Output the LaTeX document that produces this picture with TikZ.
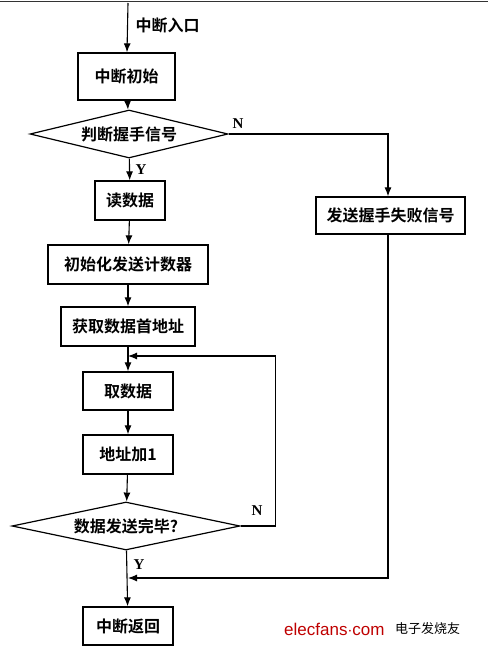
\documentclass[tikz,border=0pt]{standalone}
\usepackage{fontspec}
\usepackage{tikz}
\usetikzlibrary{shapes.geometric, arrows.meta}
\newfontfamily\cjk{Noto Sans CJK SC Bold}
\newfontfamily\cjklight{Noto Sans CJK SC}
\newfontfamily\ynfont{Liberation Serif}
\setsansfont{Liberation Sans}

\tikzset{
  box/.style={rectangle, draw, line width=1.3pt, inner sep=0pt,
    font=\cjk\fontsize{16}{18}\selectfont},
  decide/.style={diamond, draw, line width=1.2pt, inner sep=0pt, aspect=4,
    font=\cjk\fontsize{16}{18}\selectfont},
  flow/.style={-{Latex[length=9pt, width=7pt]}, line width=1.1pt},
  yn/.style={font=\ynfont\bfseries\fontsize{15}{17}\selectfont}
}

\begin{document}
\begin{tikzpicture}[x=1pt, y=-1pt]
            \useasboundingbox (0,0) rectangle (488,650);
            \draw[line width=1.6pt, black!80] (0,1.5) -- (488,1.5);

            % Nodes
            \coordinate (start) at (128,3);
            \node[anchor=west, font=\cjk\fontsize{16}{18}\selectfont] (entry) at (132,25) {中断入口};
            \node[box, minimum width=97pt, minimum height=47pt] (init) at (126.5,76.5) {中断初始};
            \node[decide, minimum width=198pt, minimum height=48pt] (hand) at (129,134) {判断握手信号};
            \node[box, minimum width=70pt, minimum height=39pt] (read) at (130,200.5) {读数据};
            \node[box, minimum width=149pt, minimum height=37pt] (fail) at (390.5,215.5) {发送握手失败信号};
            \node[box, minimum width=160pt, minimum height=39pt] (count) at (128,264.5) {初始化发送计数器};
            \node[box, minimum width=134pt, minimum height=39pt] (addr) at (128,326.5) {获取数据首地址};
            \node[box, minimum width=90pt, minimum height=38pt] (fetch) at (128,391) {取数据};
            \node[box, minimum width=90pt, minimum height=39pt] (inc) at (128,454.5) {地址加1};
            \node[decide, minimum width=228pt, minimum height=48pt] (done) at (126,526) {数据发送完毕?};
            \node[box, minimum width=90pt, minimum height=38pt] (ret) at (128,626) {中断返回};
            \coordinate (loopin) at (128,356);
            \coordinate (failin) at (128,578);

            % Labels
            \node[yn] (n1) at (238,124) {N};
            \node[yn] (y1) at (141,170) {Y};
            \node[yn] (n2) at (257,511) {N};
            \node[yn] (y2) at (139,565) {Y};
            \node[anchor=west, inner sep=0pt, text=red!75!black, font=\sffamily\fontsize{17}{19}\selectfont] (logo) at (284,629) {elecfans$\cdot$com};
            \node[anchor=west, inner sep=0pt, font=\cjklight\fontsize{13}{15}\selectfont] (logocn) at (395,629) {电子发烧友};

            % Lines
            \draw[flow] (start) -- (init);
            \draw[flow] (init) -- (hand);
            \draw[flow] (hand) -- (read);
            \draw[flow] (hand.east) -| (fail.north -| 388,0);
            \draw[flow] (read) -- (count);
            \draw[flow] (count) -- (addr);
            \draw[flow] (addr) -- (fetch);
            \draw[flow] (fetch) -- (inc);
            \draw[flow] (inc) -- (done);
            \draw[flow] (done.east) -- ++(35,0) |- (loopin);
            \draw[flow] (done) -- (ret);
            \draw[flow] (fail.south -| 388,0) |- (failin);
        \end{tikzpicture}
\end{document}
